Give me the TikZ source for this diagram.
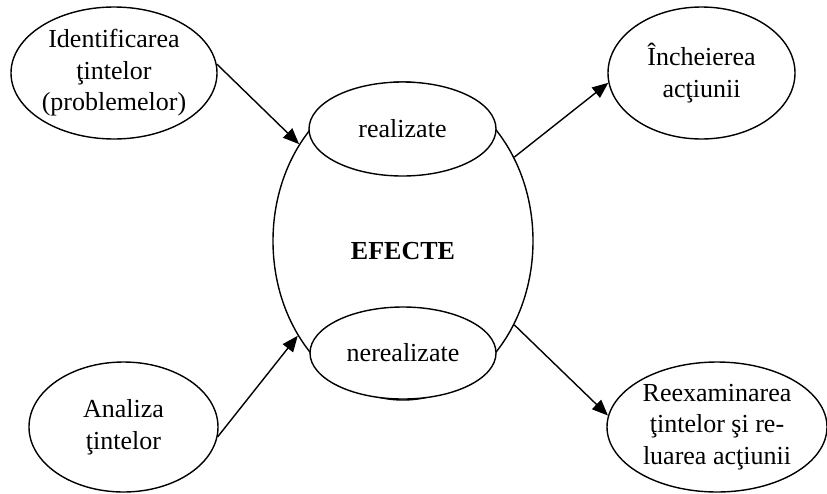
\documentclass[tikz,border=0pt]{standalone}
\usepackage{fontspec}
\setmainfont{Liberation Serif}
\usetikzlibrary{shapes.geometric,arrows.meta}
\begin{document}
\begin{tikzpicture}[x=1pt,y=-1pt,
  txt/.style={font=\fontsize{26}{31.5}\selectfont},
  oval/.style={draw, ellipse, line width=1.4pt, inner sep=0pt, align=center, fill=white, txt},
  conn/.style={line width=1.4pt, -{Triangle[length=16pt,width=13pt]}}]
\useasboundingbox (0,0) rectangle (827,493);
% central shape
\node[oval, minimum width=260pt, minimum height=318pt] (big) at (403,241) {};
\node[font=\fontsize{26}{31.5}\selectfont\bfseries] (ef) at (403,251) {EFECTE};
\node[oval, minimum width=187pt, minimum height=94pt] (real) at (402.5,129) {realizate};
\node[oval, minimum width=186pt, minimum height=92pt] (nereal) at (403,353) {nerealizate};
% outer ellipses
\node[oval, minimum width=206pt, minimum height=132pt] (tl) at (114,73) {Identificarea\\ţintelor\\(problemelor)};
\node[oval, minimum width=189pt, minimum height=130pt] (bl) at (123.5,427) {Analiza\\ţintelor};
\node[oval, minimum width=187pt, minimum height=132pt] (tr) at (701.5,73) {Încheierea\\acţiunii};
\node[oval, minimum width=220pt, minimum height=130pt] (br) at (717,427) {Reexaminarea\\ţintelor şi re-\\luarea acţiunii};
% connectors
\draw[conn] (tl.5) -- (big.137.5);
\draw[conn] (bl.-6) -- (big.222.4);
\draw[conn] (big.37.2) -- (tr.186);
\draw[conn] (big.-37.5) -- (br.174.8);
\end{tikzpicture}
\end{document}
